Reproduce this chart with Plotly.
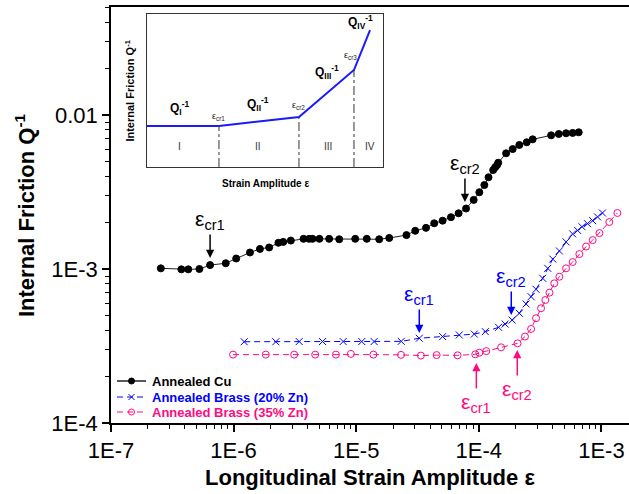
import numpy as np
import plotly.graph_objects as go

# ---------------- data ----------------
cu_x = [2.55e-7, 3.75e-7, 4.27e-7, 5.26e-7, 6.43e-7, 8.63e-7, 1.05e-6, 1.36e-6, 1.64e-6, 1.95e-6,
        2.32e-6, 2.54e-6, 2.93e-6, 3.72e-6, 4.13e-6, 4.40e-6, 5.01e-6, 6.02e-6, 7.27e-6, 9.82e-6,
        1.22e-5, 1.54e-5, 1.86e-5, 2.57e-5, 3.03e-5, 3.71e-5, 4.33e-5, 5.07e-5, 5.93e-5, 6.84e-5,
        7.87e-5, 9.08e-5, 1.01e-4, 1.11e-4, 1.20e-4, 1.31e-4, 1.36e-4, 1.41e-4, 1.44e-4, 1.67e-4,
        1.89e-4, 2.14e-4, 2.46e-4, 2.75e-4, 3.89e-4, 4.49e-4, 5.15e-4, 5.83e-4, 6.53e-4]
cu_y = [1.01e-3, 0.995e-3, 0.995e-3, 1.0e-3, 1.06e-3, 1.09e-3, 1.17e-3, 1.28e-3, 1.35e-3, 1.38e-3,
        1.48e-3, 1.50e-3, 1.53e-3, 1.57e-3, 1.57e-3, 1.57e-3, 1.57e-3, 1.57e-3, 1.56e-3, 1.57e-3,
        1.57e-3, 1.56e-3, 1.59e-3, 1.66e-3, 1.77e-3, 1.85e-3, 1.98e-3, 2.06e-3, 2.17e-3, 2.30e-3,
        2.47e-3, 2.81e-3, 3.15e-3, 3.51e-3, 3.94e-3, 4.39e-3, 4.57e-3, 4.73e-3, 4.90e-3, 5.64e-3,
        6.01e-3, 6.39e-3, 6.65e-3, 6.95e-3, 7.38e-3, 7.53e-3, 7.61e-3, 7.65e-3, 7.72e-3]

b20_x = [1.22e-6, 2.21e-6, 3.43e-6, 5.31e-6, 7.83e-6, 1.11e-5, 1.40e-5, 2.33e-5, 3.27e-5, 5.07e-5,
         6.93e-5, 9.19e-5, 1.13e-4, 1.45e-4, 1.64e-4, 1.87e-4, 2.14e-4, 2.43e-4, 2.67e-4, 2.93e-4,
         3.32e-4, 3.65e-4, 4.01e-4, 4.54e-4, 5.15e-4, 5.83e-4, 6.40e-4, 6.95e-4, 7.70e-4, 8.49e-4,
         9.30e-4, 1.02e-3]
b20_y = [3.37e-4, 3.37e-4, 3.38e-4, 3.38e-4, 3.38e-4, 3.38e-4, 3.38e-4, 3.39e-4, 3.55e-4, 3.64e-4,
         3.73e-4, 3.78e-4, 3.92e-4, 4.18e-4, 4.39e-4, 4.66e-4, 5.16e-4, 5.93e-4, 6.61e-4, 7.38e-4,
         8.70e-4, 1.01e-3, 1.16e-3, 1.31e-3, 1.50e-3, 1.69e-3, 1.78e-3, 1.88e-3, 1.97e-3, 2.06e-3,
         2.18e-3, 2.31e-3]

b35_x = [9.9e-7, 1.83e-6, 3.12e-6, 4.63e-6, 6.83e-6, 9.05e-6, 1.38e-5, 2.32e-5, 3.37e-5, 4.53e-5,
         6.72e-5, 9.36e-5, 1.01e-4, 1.15e-4, 1.52e-4, 2.07e-4, 2.38e-4, 2.67e-4, 2.93e-4, 3.22e-4,
         3.49e-4, 3.77e-4, 4.13e-4, 4.54e-4, 5.15e-4, 5.83e-4, 6.61e-4, 7.50e-4, 8.49e-4, 9.64e-4,
         1.16e-3, 1.35e-3]
b35_y = [2.78e-4, 2.78e-4, 2.78e-4, 2.78e-4, 2.78e-4, 2.81e-4, 2.78e-4, 2.77e-4, 2.74e-4, 2.76e-4,
         2.75e-4, 2.79e-4, 2.86e-4, 2.93e-4, 3.10e-4, 3.29e-4, 3.64e-4, 4.08e-4, 4.79e-4, 5.56e-4,
         6.29e-4, 7.02e-4, 8.07e-4, 8.91e-4, 1.01e-3, 1.11e-3, 1.25e-3, 1.40e-3, 1.54e-3, 1.71e-3,
         2.02e-3, 2.31e-3]

series_names = ["Annealed Cu", "Annealed Brass (20% Zn)", "Annealed Brass (35% Zn)"]

x_tickvals = [1e-7, 1e-6, 1e-5, 1e-4, 1e-3]
x_ticktext = ["1E-7", "1E-6", "1E-5", "1E-4", "1E-3"]
y_tickvals = [1e-4, 1e-3, 1e-2]
y_ticktext = ["1E-4", "1E-3", "0.01"]

# critical strain markers (arrow head positions)
crit_x = [6.43e-7, 7.71e-5, 3.27e-5, 1.84e-4, 9.55e-5, 2.06e-4]
crit_y = [1.18e-3, 2.72e-3, 3.84e-4, 5.02e-4, 2.45e-4, 2.98e-4]
crit_label = ["cr1", "cr2", "cr1", "cr2", "cr1", "cr2"]
crit_series = [0, 0, 1, 1, 2, 2]
crit_dir = [-1, -1, -1, -1, 1, 1]  # -1: label above, 1: label below

# inset schematic
inset_x = [0, 30.5, 64.4, 87.7, 94.5]
inset_y = [26.8, 26.8, 32.7, 63.4, 89.5]
region_labels = ["I", "II", "III", "IV"]
region_x = [13.6, 47.0, 76.7, 94.5]
q_labels = ["Q<sub>I</sub><sup>-1</sup>", "Q<sub>II</sub><sup>-1</sup>",
            "Q<sub>III</sub><sup>-1</sup>", "Q<sub>IV</sub><sup>-1</sup>"]
q_x = [13.6, 47.0, 76.3, 90.3]
q_y = [38.6, 41.2, 62.1, 94.8]
eps_inset_labels = ["ε<sub>cr1</sub>", "ε<sub>cr2</sub>", "ε<sub>cr3</sub>"]
eps_inset_x = [30.5, 64.4, 86.4]
eps_inset_y = [33.3, 39.9, 73.2]

# ---------------- style ----------------
FONT = "Liberation Sans, Arial, sans-serif"
colors = ["#000000", "#0000FF", "#FF0A80"]
line_colors = ["#222222", "#0000FF", "#FF0A80"]
dashes = ["solid", "6px,4px", "6px,4px"]
symbols = ["circle", "x-thin-open", "circle-open"]

L, R, T, B = 111, 0, 7, 71
W, H = 629, 494
pw, ph = W - L - R, H - T - B
inset_px = dict(x0=147, x1=383, y0=14, y1=167)

# legend layout (pixel positions within plot area, x from left, y from bottom)
leg_rows_v = [42, 26, 11]
leg_line_u = [6, 35]
leg_text_u = 39

fig = go.Figure()

data = [(cu_x, cu_y), (b20_x, b20_y), (b35_x, b35_y)]
for i, (xs, ys) in enumerate(data):
    fig.add_trace(go.Scatter(
        x=xs, y=ys, mode="lines+markers", name=series_names[i], showlegend=False,
        line=dict(color=line_colors[i], width=1, dash=dashes[i]),
        marker=dict(symbol=symbols[i], size=7, color=colors[i],
                    line=dict(width=1, color=colors[i])),
    ))

# inset traces
fig.add_trace(go.Scatter(
    x=inset_x, y=inset_y, xaxis="x2", yaxis="y2", mode="lines",
    line=dict(color="#1a1aff", width=2), showlegend=False, hoverinfo="skip"))
for i in range(1, 4):
    fig.add_trace(go.Scatter(
        x=[inset_x[i], inset_x[i]], y=[0, inset_y[i]], xaxis="x2", yaxis="y2", mode="lines",
        line=dict(color="#333333", width=1, dash="dashdot"), showlegend=False, hoverinfo="skip"))

# manual legend samples on an overlay pixel axis
annotations = []
for i in range(3):
    v = leg_rows_v[i]
    fig.add_trace(go.Scatter(
        x=leg_line_u, y=[v, v], xaxis="x3", yaxis="y3", mode="lines",
        line=dict(color=line_colors[i], width=1.5 if i == 0 else 1, dash=dashes[i]),
        showlegend=False, hoverinfo="skip"))
    fig.add_trace(go.Scatter(
        x=[sum(leg_line_u) / 2], y=[v], xaxis="x3", yaxis="y3", mode="markers",
        marker=dict(symbol=symbols[i], size=6, color=colors[i], line=dict(width=1, color=colors[i])),
        showlegend=False, hoverinfo="skip"))
    annotations.append(dict(x=leg_text_u, y=v, xref="x3", yref="y3", xanchor="left", yanchor="middle",
                            text="<b>%s</b>" % series_names[i], showarrow=False,
                            font=dict(family=FONT, size=13, color=colors[i])))

for xv, yv, lab, s, d in zip(crit_x, crit_y, crit_label, crit_series, crit_dir):
    annotations.append(dict(
        x=np.log10(xv), y=np.log10(yv), xref="x", yref="y",
        text="ε<sub>%s</sub>" % lab, showarrow=True,
        ax=0, ay=40 if d > 0 else -38,
        arrowhead=2, arrowsize=1.1, arrowwidth=1.5, arrowcolor=colors[s],
        font=dict(family=FONT, size=21, color=colors[s])))

for lab, xv in zip(region_labels, region_x):
    annotations.append(dict(x=xv, y=13.1, xref="x2", yref="y2", text=lab, showarrow=False,
                            font=dict(family=FONT, size=10, color="#333333")))
for lab, xv, yv in zip(q_labels, q_x, q_y):
    annotations.append(dict(x=xv, y=yv, xref="x2", yref="y2", text="<b>%s</b>" % lab,
                            showarrow=False, font=dict(family=FONT, size=12, color="black")))
for lab, xv, yv in zip(eps_inset_labels, eps_inset_x, eps_inset_y):
    annotations.append(dict(x=xv, y=yv, xref="x2", yref="y2", text=lab,
                            showarrow=False, font=dict(family=FONT, size=9, color="#222222")))

# inset axis titles
annotations.append(dict(x=0.5, y=-0.105, xref="x2 domain", yref="y2 domain", yanchor="middle",
                        text="<b>Strain Amplitude ε</b>", showarrow=False,
                        font=dict(family=FONT, size=10, color="black")))
annotations.append(dict(x=-0.076, y=0.5, xref="x2 domain", yref="y2 domain",
                        xanchor="center", yanchor="middle",
                        text="<b>Internal Friction Q<sup>-1</sup></b>", showarrow=False, textangle=-90,
                        font=dict(family=FONT, size=11, color="black")))

# main axis titles
annotations.append(dict(x=0.5, y=-0.13, xref="paper", yref="paper", yanchor="middle",
                        text="<b>Longitudinal Strain Amplitude ε</b>", showarrow=False,
                        font=dict(family=FONT, size=22, color="black")))
annotations.append(dict(x=-0.166, y=0.5, xref="paper", yref="paper", xanchor="center",
                        yanchor="middle",
                        text="<b>Internal Friction Q<sup>-1</sup></b>", showarrow=False, textangle=-90,
                        font=dict(family=FONT, size=22, color="black")))

fig.update_layout(
    width=W, height=H,
    margin=dict(l=L, r=R, t=T, b=B, pad=0),
    paper_bgcolor="white", plot_bgcolor="white",
    font=dict(family=FONT, color="black"),
    showlegend=False,
    annotations=annotations,
    xaxis=dict(type="log", range=[-7, -7 + pw / 122.6], showgrid=False, zeroline=False,
               showline=True, linecolor="black", linewidth=1.5, mirror=True,
               ticks="outside", ticklen=7, tickwidth=1.5, tickcolor="black",
               tickvals=x_tickvals, ticktext=x_ticktext,
               tickfont=dict(family=FONT, size=22, color="black"),
               minor=dict(ticks="outside", ticklen=4, tickwidth=1, tickcolor="black", dtick="D1",
                          showgrid=False)),
    yaxis=dict(type="log", range=[-4, -4 + ph / 154.0], showgrid=False, zeroline=False,
               showline=True, linecolor="black", linewidth=1.5,
               ticks="outside", ticklen=7, tickwidth=1.5, tickcolor="black",
               tickvals=y_tickvals, ticktext=y_ticktext,
               tickfont=dict(family=FONT, size=22, color="black"),
               minor=dict(ticks="outside", ticklen=4, tickwidth=1, tickcolor="black", dtick="D1",
                          showgrid=False)),
    xaxis2=dict(domain=[(inset_px["x0"] - L) / pw, (inset_px["x1"] - L) / pw], anchor="y2",
                range=[0, 100], showgrid=False, zeroline=False, showticklabels=False, ticks="",
                showline=True, mirror=True, linecolor="#333333", linewidth=1),
    yaxis2=dict(domain=[(H - B - inset_px["y1"]) / ph, (H - B - inset_px["y0"]) / ph], anchor="x2",
                range=[0, 100], showgrid=False, zeroline=False, showticklabels=False, ticks="",
                showline=True, mirror=True, linecolor="#333333", linewidth=1),
    xaxis3=dict(domain=[0, 1], anchor="y3", range=[0, pw], visible=False, overlaying="x"),
    yaxis3=dict(domain=[0, 1], anchor="x3", range=[0, ph], visible=False, overlaying="y"),
)

fig.write_html("out.html")
